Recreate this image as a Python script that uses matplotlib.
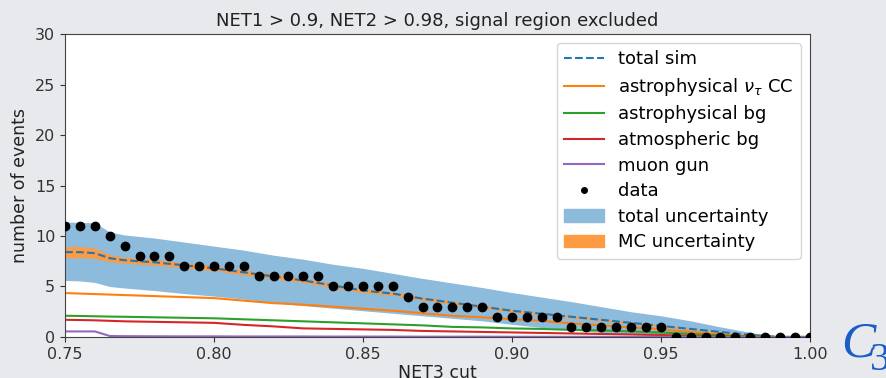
import numpy as np
import matplotlib
matplotlib.use("Agg")
import matplotlib.pyplot as plt
from matplotlib.lines import Line2D
from matplotlib.patches import Patch

# cut values for the simulation curves
cuts = [0.75, 0.755, 0.76, 0.765, 0.77, 0.78, 0.79, 0.80, 0.81, 0.82, 0.83, 0.84,
        0.85, 0.86, 0.87, 0.88, 0.89, 0.90, 0.91, 0.92, 0.93, 0.94, 0.95, 0.96,
        0.97, 0.98, 0.99, 1.00]
total_sim = [8.4, 8.4, 8.3, 7.8, 7.6, 7.4, 7.1, 6.8, 6.4, 6.0, 5.6, 5.1,
             4.6, 4.3, 3.8, 3.4, 3.0, 2.6, 2.3, 2.0, 1.7, 1.4, 1.1, 0.8,
             0.5, 0.2, 0.0, 0.0]
astro_tau = [4.35, 4.3, 4.25, 4.2, 4.15, 4.05, 3.95, 3.85, 3.6, 3.35, 3.2, 3.0,
             2.8, 2.6, 2.35, 2.1, 1.95, 1.75, 1.6, 1.35, 1.15, 0.95, 0.75, 0.5,
             0.25, 0.05, 0.0, 0.0]
astro_bg = [2.1, 2.08, 2.05, 2.02, 2.0, 1.95, 1.9, 1.85, 1.75, 1.65, 1.55, 1.45,
            1.35, 1.25, 1.15, 1.0, 0.95, 0.85, 0.8, 0.7, 0.65, 0.55, 0.45, 0.3,
            0.15, 0.05, 0.0, 0.0]
atmo_bg = [1.7, 1.68, 1.65, 1.6, 1.55, 1.5, 1.45, 1.4, 1.2, 1.05, 0.85, 0.8,
           0.75, 0.7, 0.6, 0.55, 0.5, 0.45, 0.4, 0.35, 0.3, 0.25, 0.2, 0.1,
           0.05, 0.02, 0.0, 0.0]
muon_gun = [0.55, 0.55, 0.55, 0.1, 0.08, 0.07, 0.06, 0.06, 0.05, 0.05, 0.05, 0.04,
            0.04, 0.04, 0.03, 0.03, 0.03, 0.02, 0.02, 0.02, 0.02, 0.01, 0.01, 0.01,
            0.0, 0.0, 0.0, 0.0]
tot_up = [11.4, 11.35, 11.3, 10.4, 10.1, 9.8, 9.4, 9.0, 8.6, 8.1, 7.7, 7.2,
          6.8, 6.3, 5.8, 5.35, 4.9, 4.4, 3.95, 3.5, 3.0, 2.5, 2.1, 1.6,
          1.0, 0.45, 0.0, 0.0]
tot_lo = [5.6, 5.55, 5.4, 5.0, 4.85, 4.6, 4.3, 4.05, 3.75, 3.4, 3.1, 2.85,
          2.6, 2.35, 2.1, 1.85, 1.6, 1.25, 0.95, 0.7, 0.45, 0.25, 0.1, 0.0,
          0.0, 0.0, 0.0, 0.0]
mc_err = [0.55, 0.55, 0.5, 0.35, 0.3, 0.28, 0.26, 0.25, 0.24, 0.23, 0.22, 0.2,
          0.2, 0.18, 0.17, 0.16, 0.15, 0.14, 0.13, 0.12, 0.11, 0.1, 0.09, 0.07,
          0.05, 0.03, 0.0, 0.0]

# data points, one every 0.005 in the cut
data_cuts = np.round(np.arange(0.75, 1.0001, 0.005), 3)
data_counts = [11, 11, 11, 10, 9, 8, 8, 8, 7, 7, 7, 7, 7, 6, 6, 6, 6, 6,
               5, 5, 5, 5, 5, 4, 3, 3, 3, 3, 3, 2, 2, 2, 2, 2,
               1, 1, 1, 1, 1, 1, 1, 0, 0, 0, 0, 0, 0, 0, 0, 0, 0]

cuts = np.array(cuts)
total_sim = np.array(total_sim)
mc_err = np.array(mc_err)

fig = plt.figure(figsize=(8.86, 3.78), dpi=100)
fig.patch.set_facecolor("#e8e9ed")
ax = fig.add_axes([0.0734, 0.1085, 0.8406, 0.8015])

ax.fill_between(cuts, tot_lo, tot_up, color="#8cbbdb", lw=0)
ax.fill_between(cuts, total_sim - mc_err, total_sim + mc_err, color="#fd9a44", lw=0)
ax.plot(cuts, total_sim, "--", color="#1f77b4", lw=1.5)
ax.plot(cuts, astro_tau, color="#ff7f0e", lw=1.5)
ax.plot(cuts, astro_bg, color="#2ca02c", lw=1.5)
ax.plot(cuts, atmo_bg, color="#d62728", lw=1.5)
ax.plot(cuts, muon_gun, color="#9467bd", lw=1.5)
ax.plot(data_cuts, data_counts, "o", color="black", ms=6, zorder=5)

ax.set_xlim(0.75, 1.0)
ax.set_ylim(0, 30)
ax.set_xticks([0.75, 0.80, 0.85, 0.90, 0.95, 1.00])
ax.set_yticks([0, 5, 10, 15, 20, 25, 30])
ax.tick_params(labelsize=11.5, colors="#333333")
ax.set_xlabel("NET3 cut", fontsize=12.5, color="#222222", labelpad=2)
ax.set_ylabel("number of events", fontsize=12.5, color="#222222")
ax.set_title("NET1 > 0.9, NET2 > 0.98, signal region excluded", fontsize=13,
             color="#222222", pad=6)
for s in ax.spines.values():
    s.set_color("#444444")

handles = [
    Line2D([], [], ls="--", color="#1f77b4", lw=1.5),
    Line2D([], [], color="#ff7f0e", lw=1.5),
    Line2D([], [], color="#2ca02c", lw=1.5),
    Line2D([], [], color="#d62728", lw=1.5),
    Line2D([], [], color="#9467bd", lw=1.5),
    Line2D([], [], ls="", marker="o", color="black", ms=4),
    Patch(color="#8cbbdb"),
    Patch(color="#fd9a44"),
]
labels = ["total sim", r"astrophysical $\nu_\tau$ CC", "astrophysical bg",
          "atmospheric bg", "muon gun", "data", "total uncertainty", "MC uncertainty"]
ax.legend(handles, labels, loc="upper right", fontsize=13, framealpha=0.8,
          borderaxespad=0.5, handlelength=2.2, labelspacing=0.42)

fig.text(0.949, 0.0556, "C", fontsize=37, style="italic", family="Liberation Serif",
         color="#1a5cc8")
fig.text(0.982, 0.021, "3", fontsize=29, family="Liberation Serif", color="#1a5cc8")

fig.savefig("out.png", dpi=100, facecolor=fig.get_facecolor())
